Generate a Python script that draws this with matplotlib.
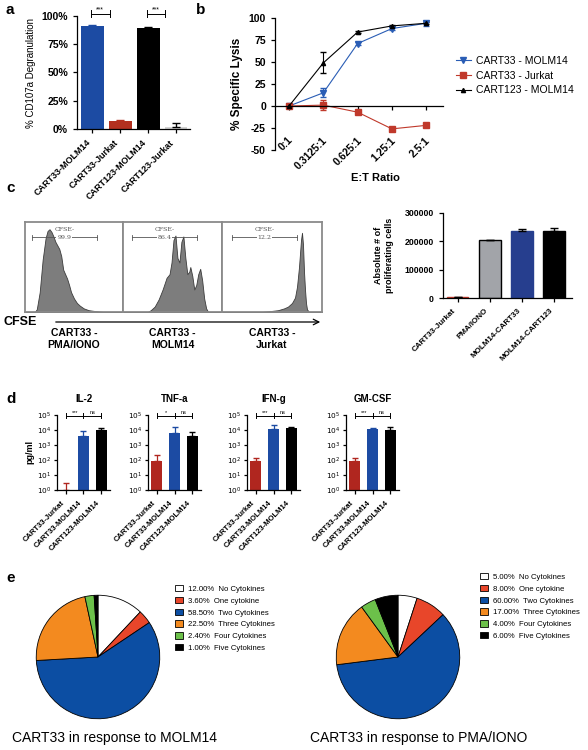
import numpy as np
import matplotlib
matplotlib.use('Agg')
import matplotlib.pyplot as plt
from matplotlib.ticker import LogLocator, NullFormatter, FixedLocator
from matplotlib.lines import Line2D
from matplotlib.transforms import ScaledTranslation

plt.rcParams['font.family'] = ['Liberation Sans', 'DejaVu Sans']
plt.rcParams['axes.linewidth'] = 0.9
plt.rcParams['xtick.major.width'] = 0.9
plt.rcParams['ytick.major.width'] = 0.9
plt.rcParams['xtick.major.size'] = 3
plt.rcParams['ytick.major.size'] = 3

# ---- data ----
# a: CD107a degranulation
deg_groups = ['CART33-MOLM14', 'CART33-Jurkat', 'CART123-MOLM14', 'CART123-Jurkat']
deg_vals = [91, 7, 89, 2]
deg_err = [1, 0.6, 1.5, 3]

# b: specific lysis
et_ratios = ['0:1', '0.3125:1', '0.625:1', '1.25:1', '2.5:1']
lysis_33_molm = [0, 15, 71, 88, 94]
lysis_33_molm_err = [1, 5, 2, 2, 3]
lysis_33_jurkat = [0, 1, -7, -26, -22]
lysis_33_jurkat_err = [1, 6, 2, 2, 2]
lysis_123_molm = [0, 49, 84, 91, 94]
lysis_123_molm_err = [0.5, 12, 1, 1, 1]

# c: CFSE histograms (channel position 0-100, height % of box)
cfse_pma_x = [0, 10, 12, 15, 18, 21, 23, 25, 27, 29, 31, 33, 35, 37, 39, 41, 43, 45, 47, 50, 53, 56, 60, 65, 72, 80, 100]
cfse_pma_y = [0, 0, 3, 22, 58, 82, 90, 92, 89, 84, 78, 74, 70, 62, 47, 42, 37, 30, 22, 15, 10, 7, 4, 2, 1, 0, 0]
cfse_molm_x = [0, 25, 28, 32, 36, 40, 44, 47, 49, 51, 53, 55, 57, 59, 61, 63, 65, 67, 68, 70, 72, 74, 76, 78, 80, 82, 84, 86, 100]
cfse_molm_y = [0, 0, 2, 6, 14, 25, 38, 42, 55, 80, 85, 60, 55, 78, 84, 60, 42, 45, 50, 40, 25, 30, 42, 48, 35, 15, 4, 0, 0]
cfse_jurkat_x = [0, 40, 48, 56, 62, 66, 70, 73, 75, 77, 79, 80, 81, 82, 83, 84, 85, 87, 100]
cfse_jurkat_y = [0, 0, 1, 2, 4, 6, 10, 16, 28, 50, 80, 88, 75, 45, 25, 10, 3, 0, 0]
cfse_gate = ['99.9', '86.4', '12.2']
cfse_titles = ['CART33 -\nPMA/IONO', 'CART33 -\nMOLM14', 'CART33 -\nJurkat']

# c: absolute proliferating cells
prolif_groups = ['CART33-Jurkat', 'PMA/IONO', 'MOLM14-CART33', 'MOLM14-CART123']
prolif_vals = [2000, 204000, 238000, 238000]
prolif_err = [500, 0, 6000, 10000]

# d: cytokines (pg/ml)
cyto_names = ['IL-2', 'TNF-a', 'IFN-g', 'GM-CSF']
cyto_groups = ['CART33-Jurkat', 'CART33-MOLM14', 'CART123-MOLM14']
il2_vals = [1, 4000, 10000]
il2_err = [2, 4000, 4000]
tnf_vals = [80, 6000, 4000]
tnf_err = [120, 9000, 3000]
ifn_vals = [80, 12000, 13000]
ifn_err = [50, 8000, 2000]
gmcsf_vals = [80, 12000, 10000]
gmcsf_err = [50, 1500, 5000]
cyto_sig = [['***', 'ns'], ['*', 'ns'], ['***', 'ns'], ['***', 'ns']]

# e: polyfunctionality
cyto_counts = ['No Cytokines', 'One cytokine', 'Two Cytokines', 'Three Cytokines', 'Four Cytokines', 'Five Cytokines']
molm_pct = [12.0, 3.6, 58.5, 22.5, 2.4, 1.0]
pma_pct = [5.0, 8.0, 60.0, 17.0, 4.0, 6.0]

# ---- styles ----
blue = '#1c4ba3'
red = '#b3301f'
pie_colors = ['white', '#e8462a', '#0c4ea3', '#f38a1f', '#6cc04a', 'black']

W, H = 588, 750
fig = plt.figure(figsize=(W / 100, H / 100), dpi=100)


def box(l, t, r, b):
    return [l / W, 1 - b / H, (r - l) / W, (b - t) / H]


ov = fig.add_axes([0, 0, 1, 1])
ov.set_xlim(0, W)
ov.set_ylim(H, 0)
ov.axis('off')

for lab, (x, y) in zip('abcde', [(6, 10), (196, 10), (6, 188), (6, 399), (6, 578)]):
    ov.text(x, y, lab, fontsize=11, fontweight='bold', va='center')


def style(ax):
    ax.spines['top'].set_visible(False)
    ax.spines['right'].set_visible(False)


# ---- a ----
ax = fig.add_axes(box(77, 16, 190, 129))
style(ax)
xa = np.arange(len(deg_groups))
deg_colors = [blue, red, 'black', '#d3d3d3']
err_colors = [blue, red, 'black', 'black']
ax.bar(xa, deg_vals, width=0.82, color=deg_colors)
for i in range(len(xa)):
    ax.errorbar(xa[i], deg_vals[i], yerr=[[0], [deg_err[i]]], fmt='none',
                ecolor=err_colors[i], elinewidth=1, capsize=3, capthick=1)
ax.set_xlim(-0.55, 3.5)
ax.set_ylim(0, 100)
ax.set_yticks([0, 25, 50, 75, 100])
ax.set_yticklabels(['0%', '25%', '50%', '75%', '100%'], fontsize=7.5, fontweight='bold')
ax.set_xticks(xa)
ax.set_xticklabels(deg_groups, rotation=45, ha='right', fontsize=6.5, fontweight='bold')
ax.set_ylabel('% CD107a Degranulation', fontsize=7)
for i in [0, 2]:
    x0, x1 = i - 0.05, i + 0.62
    ax.plot([x0, x1], [102, 102], color='black', lw=0.7, clip_on=False)
    ax.plot([x0, x0], [99, 105], color='black', lw=0.7, clip_on=False)
    ax.plot([x1, x1], [99, 105], color='black', lw=0.7, clip_on=False)
    ax.text((x0 + x1) / 2, 102.5, '***', fontsize=5, ha='center', va='bottom', clip_on=False)

# ---- b ----
ax = fig.add_axes(box(275, 18, 443, 150))
style(ax)
xb = np.arange(len(et_ratios))
series_b = [(lysis_33_molm, lysis_33_molm_err, '#2a5db5', 'v', 4.5, 'CART33 - MOLM14'),
            (lysis_33_jurkat, lysis_33_jurkat_err, '#c0392b', 's', 4, 'CART33 - Jurkat'),
            (lysis_123_molm, lysis_123_molm_err, 'black', '^', 3, 'CART123 - MOLM14')]
handles = []
for vals, err, col, mk, ms, lab in series_b:
    ax.errorbar(xb, vals, yerr=err, color=col, marker=mk, ms=ms, lw=0.8, capsize=2, elinewidth=0.8)
    handles.append(Line2D([], [], color=col, marker=mk, ms=ms, lw=0.8, label=lab))
ax.spines['bottom'].set_position(('data', 0))
ax.set_xlim(-0.41, 4.49)
ax.set_ylim(-50, 100)
ax.set_yticks([-50, -25, 0, 25, 50, 75, 100])
ax.set_yticklabels(['-50', '-25', '0', '25', '50', '75', '100'], fontsize=7.5, fontweight='bold')
ax.set_xticks(xb)
ax.set_xticklabels(et_ratios, rotation=45, ha='right', fontsize=7.5, fontweight='bold')
ax.tick_params(axis='x', pad=18)
shift = ScaledTranslation(6 / 100, 0, fig.dpi_scale_trans)
for t in ax.get_xticklabels():
    t.set_transform(t.get_transform() + shift)
ax.set_ylabel('% Specific Lysis', fontsize=8.5, fontweight='bold')
ov.text(375, 178, 'E:T Ratio', fontsize=8, fontweight='bold', ha='center', va='center')
ax.legend(handles=handles, loc='upper left', bbox_to_anchor=(456 / W, 1 - 56 / H),
          bbox_transform=fig.transFigure, frameon=False, fontsize=7.5, handlelength=1.4,
          labelspacing=0.45, handletextpad=0.5, borderpad=0, borderaxespad=0)

# ---- c histograms ----
hists = [(cfse_pma_x, cfse_pma_y), (cfse_molm_x, cfse_molm_y), (cfse_jurkat_x, cfse_jurkat_y)]
hist_left = [25, 123, 222]
hist_right = [123, 222, 322]
gate_span = [(7, 73), (9, 75), (10, 75)]
for k in range(3):
    ax = fig.add_axes(box(hist_left[k], 222, hist_right[k], 312))
    hx, hy = hists[k]
    ax.fill_between(hx, hy, color='#7d7d7d', edgecolor='#3c3c3c', lw=0.6)
    ax.set_xlim(0, 100)
    ax.set_ylim(0, 100)
    ax.set_xticks([])
    ax.set_yticks([])
    for s in ax.spines.values():
        s.set_color('#8a8a8a')
        s.set_linewidth(1.3)
    g0, g1 = gate_span[k]
    gm = (g0 + g1) / 2
    ax.plot([g0, g1], [83, 83], color='#555555', lw=0.6)
    ax.plot([g0, g0], [80, 86], color='#555555', lw=0.6)
    ax.plot([g1, g1], [80, 86], color='#555555', lw=0.6)
    ax.text(gm, 92, 'CFSE-', fontsize=4.5, color='#555555', ha='center', va='center', family='serif')
    ax.text(gm, 83, cfse_gate[k], fontsize=4.5, color='#555555', ha='center', va='center', family='serif',
            bbox=dict(facecolor='white', edgecolor='none', pad=0.6))
    ov.text((hist_left[k] + hist_right[k]) / 2, 339, cfse_titles[k], fontsize=7.5, fontweight='bold',
            ha='center', va='center', linespacing=1.15)
ov.annotate('', xy=(323, 322), xytext=(53, 322),
            arrowprops=dict(arrowstyle='->', color='black', lw=0.9, mutation_scale=10))
ov.text(4, 322, 'CFSE', fontsize=9, fontweight='bold', va='center')

# ---- c bars ----
ax = fig.add_axes(box(443, 213, 572, 298))
style(ax)
xc = np.arange(len(prolif_groups))
ax.bar(xc, prolif_vals, width=0.68, color=['#c0392b', '#a2a4a9', '#263e8e', 'black'],
       edgecolor=['#c0392b', 'black', '#263e8e', 'black'], lw=1)
ax.errorbar(xc, prolif_vals, yerr=[[0] * 4, prolif_err], fmt='none', ecolor='black',
            elinewidth=1, capsize=3)
ax.set_xlim(-0.45, 3.55)
ax.set_ylim(0, 300000)
ax.set_yticks([0, 100000, 200000, 300000])
ax.set_yticklabels(['0', '100000', '200000', '300000'], fontsize=6.3, fontweight='bold')
ax.set_xticks(xc)
ax.set_xticklabels(prolif_groups, rotation=45, ha='right', fontsize=5.8, fontweight='bold')
ax.set_ylabel('Absolute # of\nproliferating cells', fontsize=6.5, fontweight='bold', labelpad=8)

# ---- d ----
cyto_vals = [il2_vals, tnf_vals, ifn_vals, gmcsf_vals]
cyto_errs = [il2_err, tnf_err, ifn_err, gmcsf_err]
d_left = [57, 148, 247, 346]
for k in range(4):
    ax = fig.add_axes(box(d_left[k], 415, d_left[k] + 53, 490))
    style(ax)
    xd = np.arange(len(cyto_groups))
    vals = cyto_vals[k]
    cols = ['#b0261f', blue, 'black']
    ax.set_yscale('log')
    ax.bar(xd, [v - 1 for v in vals], bottom=1, width=0.63, color=cols)
    for i in range(3):
        ax.errorbar(xd[i], vals[i], yerr=[[0], [cyto_errs[k][i]]], fmt='none', ecolor=cols[i],
                    elinewidth=0.9, capsize=2.2)
    ax.set_ylim(1, 1e5)
    ax.set_xlim(-0.5, 2.5)
    ax.yaxis.set_major_locator(FixedLocator([1, 10, 100, 1e3, 1e4, 1e5]))
    ax.set_yticklabels(['$10^0$', '$10^1$', '$10^2$', '$10^3$', '$10^4$', '$10^5$'], fontsize=5.3)
    ax.yaxis.set_minor_locator(LogLocator(base=10, subs=np.arange(2, 10)))
    ax.yaxis.set_minor_formatter(NullFormatter())
    ax.tick_params(axis='y', which='minor', length=1.5, width=0.5)
    ax.tick_params(axis='y', which='major', length=2.5, pad=1.5)
    ax.set_xticks(xd)
    ax.set_xticklabels(cyto_groups, rotation=45, ha='right', fontsize=5.5, fontweight='bold')
    ax.set_title(cyto_names[k], fontsize=7, fontweight='bold', pad=9)
    if k == 0:
        ax.set_ylabel('pg/ml', fontsize=6.5, fontweight='bold', labelpad=2)
    yb = 1e5 * 0.9
    for j, sig in enumerate(cyto_sig[k]):
        ax.plot([j, j + 1], [yb, yb], color='black', lw=0.7, clip_on=False)
        ax.text(j + 0.5, yb * 1.05, sig, fontsize=4, ha='center', va='bottom', clip_on=False)
    for j in range(3):
        ax.plot([j, j], [yb / 1.5, yb * 1.5], color='black', lw=0.7, clip_on=False)

# ---- e ----
for pct, (cx, cy), (lx, ly), cap_x in [(molm_pct, (98, 657), (175, 585), 12),
                                       (pma_pct, (398, 657), (480, 573), 310)]:
    ax = fig.add_axes(box(cx - 63, cy - 63, cx + 63, cy + 63))
    wedges, _ = ax.pie(pct, colors=pie_colors, startangle=90, counterclock=False,
                       wedgeprops=dict(edgecolor='black', linewidth=0.6))
    ax.set_xlim(-1.02, 1.02)
    ax.set_ylim(-1.02, 1.02)
    labels = [f'{p:.2f}%  {n}' for p, n in zip(pct, cyto_counts)]
    ax.legend(wedges, labels, loc='upper left', bbox_to_anchor=(lx / W, 1 - ly / H),
              bbox_transform=fig.transFigure, frameon=False, fontsize=5.6, handlelength=1.0,
              handleheight=0.9, labelspacing=0.5, handletextpad=0.7, borderpad=0, borderaxespad=0)
    ax.text(cap_x / W, 1 - 738 / H, 'CART33 in response to ' + ('MOLM14' if pct is molm_pct else 'PMA/IONO'),
            transform=fig.transFigure, fontsize=10, va='center')

fig.savefig('out.png', dpi=100)
